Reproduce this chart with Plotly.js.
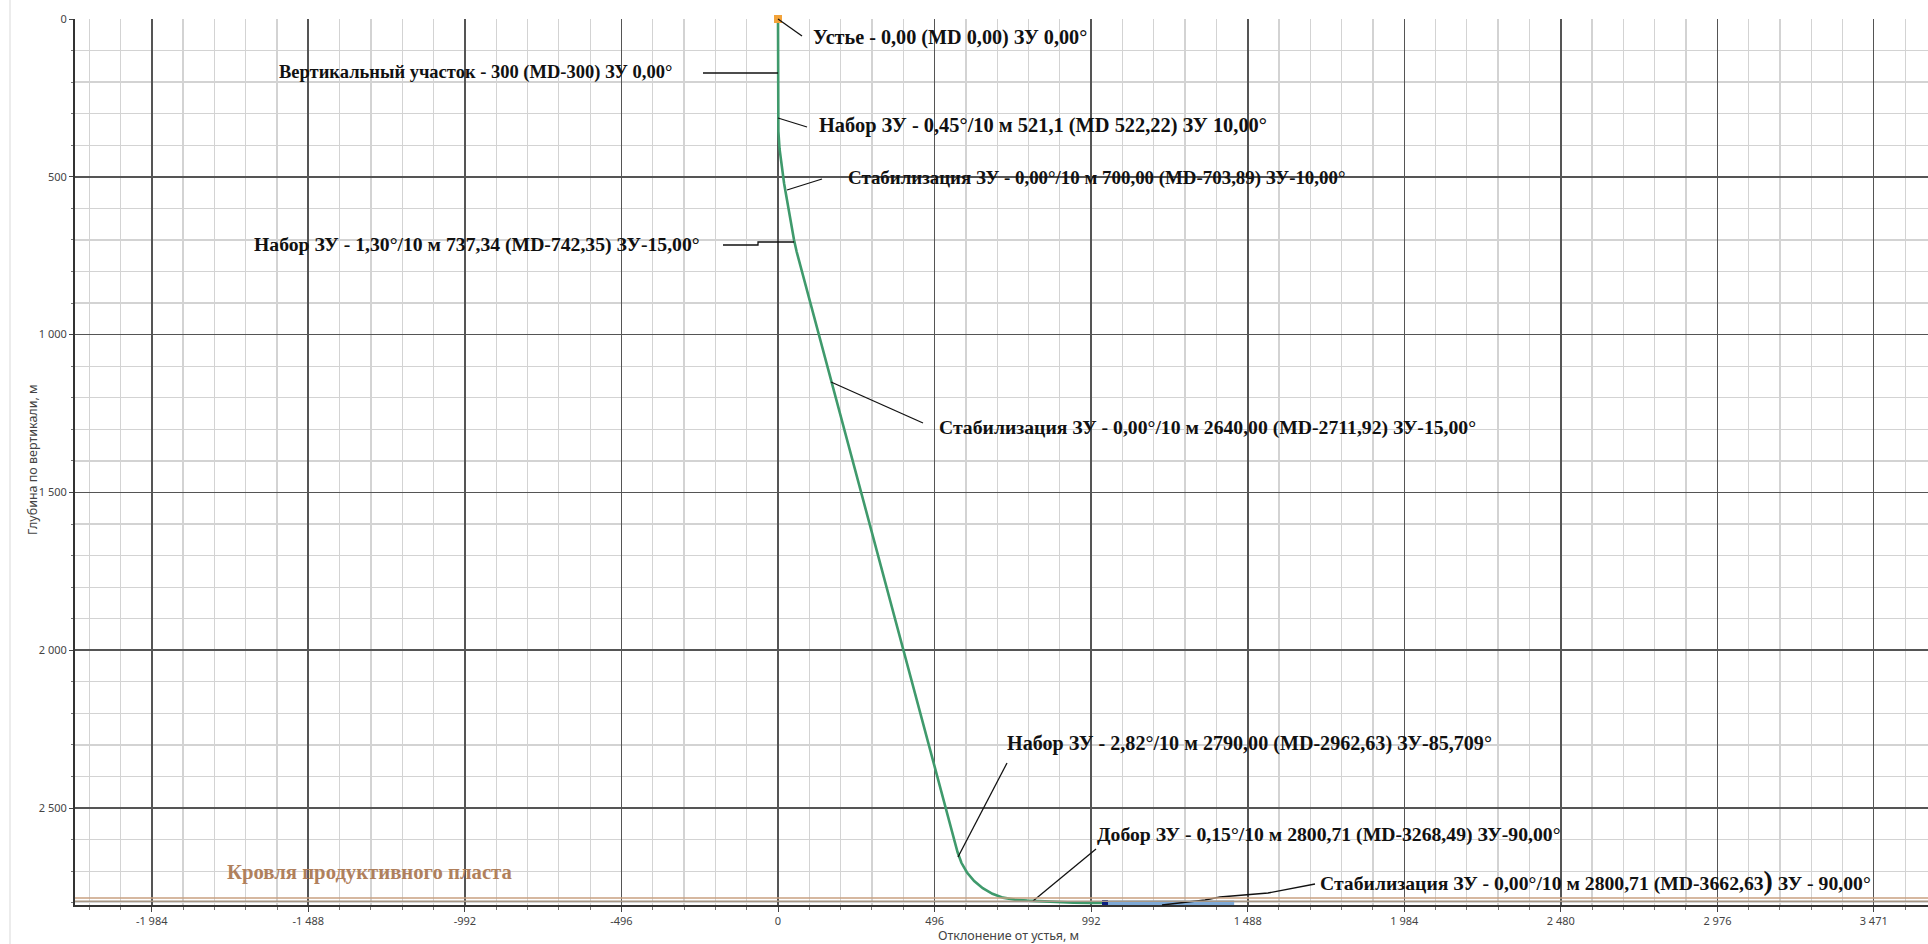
<!DOCTYPE html>
<html><head><meta charset="utf-8">
<script src="https://cdn.plot.ly/plotly-3.0.1.min.js"></script>
<style>html,body{margin:0;padding:0;background:#fff;overflow:hidden}#chart{width:1928px;height:944px}</style>
</head><body><div id="chart"></div>
<script>
const wellHD  = [0, 0, 1.2, 4.8, 10.9, 19.3, 50.8, 55.0, 59.1, 568.9, 581.0, 598.7, 621.5, 648.6, 679.3, 712.6, 750.0, 790.0, 835.9, 885.0, 935.8, 985.0, 1035.8];
const wellTVD = [0, 300, 355.5, 411.0, 466.2, 521.1, 700.0, 719.0, 737.34, 2640.0, 2673.3, 2704.0, 2731.1, 2753.9, 2771.6, 2783.7, 2790.0, 2793.2, 2795.5, 2797.7, 2799.4, 2800.4, 2800.71];
const horizHD  = [1035.8, 1445];
const horizTVD = [2800.71, 2800.71];
const wellheadHD = [0], wellheadTVD = [0];
const targetHD = [1035.8], targetTVD = [2800.71];
const horizonTVD = [2785, 2795];

const xTickVals = [-1984, -1488, -992, -496, 0, 496, 992, 1488, 1984, 2480, 2976, 3471];
const xTickText = ["-1 984", "-1 488", "-992", "-496", "0", "496", "992", "1 488", "1 984", "2 480", "2 976", "3 471"];
const yTickVals = [0, 500, 1000, 1500, 2000, 2500];
const yTickText = ["0", "500", "1 000", "1 500", "2 000", "2 500"];

const labelTexts = [
  "Устье - 0,00 (MD 0,00) ЗУ 0,00°",
  "Вертикальный участок - 300 (MD-300) ЗУ 0,00°",
  "Набор ЗУ - 0,45°/10 м 521,1 (MD 522,22) ЗУ 10,00°",
  "Стабилизация ЗУ - 0,00°/10 м 700,00 (MD-703,89) ЗУ-10,00°",
  "Набор ЗУ - 1,30°/10 м 737,34 (MD-742,35) ЗУ-15,00°",
  "Стабилизация ЗУ - 0,00°/10 м 2640,00 (MD-2711,92) ЗУ-15,00°",
  "Набор ЗУ - 2,82°/10 м 2790,00 (MD-2962,63) ЗУ-85,709°",
  "Добор ЗУ - 0,15°/10 м 2800,71 (MD-3268,49) ЗУ-90,00°",
  "Стабилизация ЗУ - 0,00°/10 м 2800,71 (MD-3662,63<span style='font-size:28px'>)</span> ЗУ - 90,00°"
];
const horizonLabel = "Кровля продуктивного пласта";
const xTitle = "Отклонение от устья, м";
const yTitle = "Глубина по вертикали, м";

// ---- layout geometry (pixels) ----
const PL = 75, PR = 1928, PT = 19, PB = 905;
const px = v => (v - PL) / (PR - PL);
const py = v => (PB - v) / (PB - PT);

const labelPos = [[811,37],[277,73],[817,125],[846,178],[252,244],[937,427],[1005,743],[1095,834],[1318,880]];
const labelSize = [20.2, 18.5, 20.4, 18.9, 19.7, 19.7, 20.1, 19.7, 19.7];
const leaderLines = [
  [[778,19],[802,36]],
  [[703,73],[778,73]],
  [[778,118],[807,127]],
  [[787,190],[822,179]],
  [[723,245],[758,245],[758,242],[794,242]],
  [[831,382],[923,423]],
  [[958,857],[1007,763]],
  [[1033,901],[1096,849]],
  [[1162,905],[1205,900],[1220,897],[1268,893],[1315,884]]
];

const shapes = [];
leaderLines.forEach(pts => {
  let d = pts.map((p,i) => (i ? 'L' : 'M') + px(p[0]) + ',' + py(p[1])).join(' ');
  shapes.push({type:'path', xref:'paper', yref:'paper', path:d, line:{color:'#111', width:1.3}});
});
const horizonColors = ['#c9a080', '#a89886'];
horizonTVD.forEach((t,i) => shapes.push({type:'line', xref:'paper', yref:'y', x0:0, x1:1, y0:t, y1:t, line:{color:horizonColors[i], width:1.5}, layer:'above'}));
shapes.push({type:'line', xref:'paper', yref:'paper', x0:px(10), x1:px(10), y0:py(0), y1:py(944), line:{color:'#e6e6e6', width:1.5}});

const annotations = labelTexts.map((t,i) => ({
  xref:'paper', yref:'paper', x:px(labelPos[i][0]), y:py(labelPos[i][1]),
  xanchor:'left', yanchor:'middle', showarrow:false, text:'<b>'+t+'</b>',
  font:{family:'Liberation Serif, Times New Roman, serif', size:labelSize[i], color:'#111'}
}));
annotations.push({xref:'paper', yref:'paper', x:px(225), y:py(872), xanchor:'left', yanchor:'middle', showarrow:false,
  text:'<b>'+horizonLabel+'</b>', font:{family:'Liberation Serif, serif', size:20.7, color:'#b0805c'}});
annotations.push({xref:'paper', yref:'paper', x:px(1008), y:py(935), xanchor:'center', yanchor:'middle', showarrow:false,
  text:xTitle, font:{family:'Noto Sans, sans-serif', size:12.5, color:'#444'}});
annotations.push({xref:'paper', yref:'paper', x:px(32), y:py(460), xanchor:'center', yanchor:'middle', showarrow:false, textangle:-90,
  text:yTitle, font:{family:'Noto Sans, sans-serif', size:12.5, color:'#444'}});

const traces = [
  {x:wellHD, y:wellTVD, mode:'lines', line:{color:'#3f9a6c', width:2.6}, hoverinfo:'skip'},
  {x:horizHD, y:horizTVD, mode:'lines', line:{color:'#7ea9d6', width:5}, hoverinfo:'skip'},
  {x:wellheadHD, y:wellheadTVD, mode:'markers', marker:{symbol:'square', size:8, color:'#f3a33a'}, cliponaxis:false, hoverinfo:'skip'},
  {x:targetHD, y:targetTVD, mode:'markers', marker:{symbol:'square', size:6, color:'#0d2080'}, cliponaxis:false, hoverinfo:'skip'}
];

const tickFont = {family:'Noto Sans, sans-serif', size:11, color:'#444'};
const layout = {
  width:1928, height:944, autosize:false, showlegend:false,
  margin:{l:PL, r:1928-PR, t:PT, b:944-PB, pad:0},
  paper_bgcolor:'#fff', plot_bgcolor:'#fff',
  xaxis:{range:[-2227, 3643], tickmode:'array', tickvals:xTickVals, ticktext:xTickText, tickfont:tickFont,
    showgrid:true, gridcolor:'#555', gridwidth:1.6, zeroline:false, showline:true, linecolor:'#333', linewidth:2,
    ticks:'outside', ticklen:5, tickcolor:'#444', automargin:false,
    minor:{tick0:0, dtick:99.184, showgrid:true, gridcolor:'#d3d3d3', gridwidth:1.3, ticks:'outside', ticklen:3, tickcolor:'#777'}},
  yaxis:{range:[2807, 0], tickmode:'array', tickvals:yTickVals, ticktext:yTickText, tickfont:tickFont,
    showgrid:true, gridcolor:'#555', gridwidth:1.6, zeroline:false, showline:true, linecolor:'#333', linewidth:2,
    ticks:'outside', ticklen:4, tickcolor:'#444', automargin:false,
    minor:{tick0:0, dtick:100, showgrid:true, gridcolor:'#d3d3d3', gridwidth:1.3, ticks:'outside', ticklen:2, tickcolor:'#777'}},
  shapes:shapes, annotations:annotations
};
Plotly.newPlot('chart', traces, layout, {staticPlot:true, displayModeBar:false});
</script></body></html>
